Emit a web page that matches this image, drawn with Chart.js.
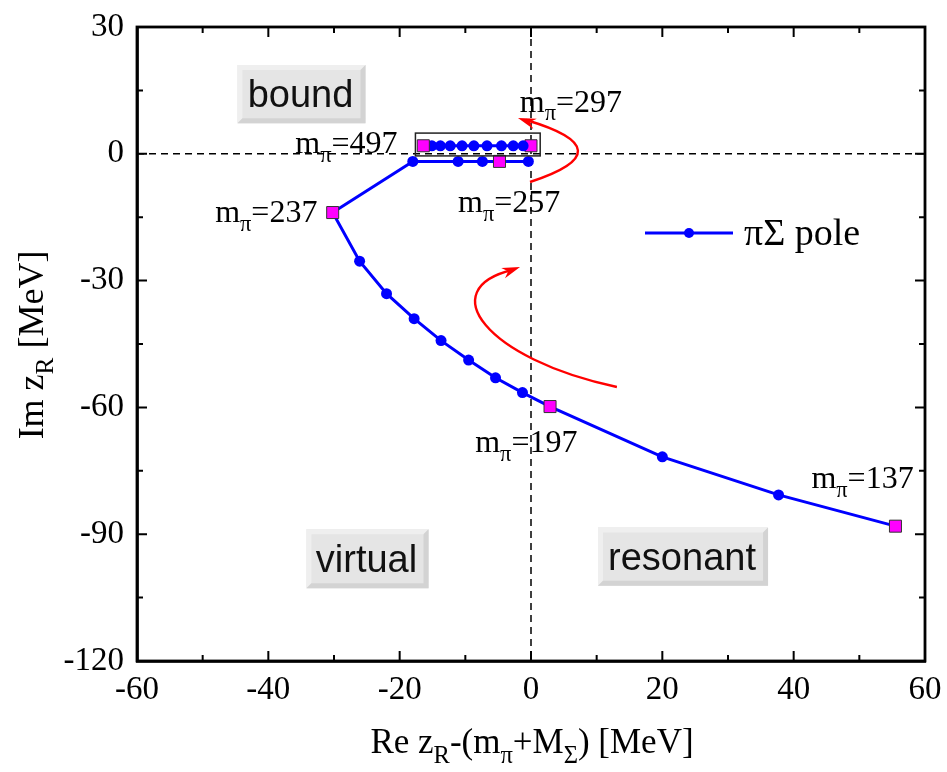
<!DOCTYPE html>
<html><head><meta charset="utf-8">
<script src="https://cdn.jsdelivr.net/npm/chart.js@4.4.1/dist/chart.umd.min.js"></script>
<style>html,body{margin:0;padding:0;background:#fff}</style>
</head><body>
<canvas id="c" width="947" height="772" style="width:947px;height:772px;display:block"></canvas>
<script>
// ---- data ----
const mpiLower = [137,157,177,197,202,207,212,217,222,227,232,237,242,247,252,257,262];
const reLower  = [55.5,37.7,20.0,2.9,-1.3,-5.4,-9.5,-13.7,-17.8,-22.0,-26.1,-30.2,-18.0,-11.1,-7.4,-4.8,-0.4];
const imLower  = [-88.1,-80.7,-71.7,-59.8,-56.5,-53.0,-48.8,-44.2,-39.0,-33.1,-25.4,-13.9,-1.8,-1.8,-1.8,-1.8,-1.8];
const mpiUpper = [297,317,337,357,377,397,417,437,457,477,497];
const reUpper  = [0.0,-1.2,-2.7,-4.5,-6.7,-8.7,-10.5,-12.3,-13.8,-15.1,-16.4];
const imUpper  = [1.9,1.9,1.9,1.9,1.9,1.9,1.9,1.9,1.9,1.9,1.9];
const markedMpi = [137,197,237,257,297,497];
const xTicks = [-60,-40,-20,0,20,40,60];
const yTicks = [30,0,-30,-60,-90,-120];
const seriesLabel = 'πΣ pole';
// labels next to points: [mπ value, re, im] (text anchor, data units)
const mpiLabels = [['497',-35.9,0.2],['297',-1.7,10.0],['257',-11.1,-13.7],['237',-48.1,-16.1],['197',-8.5,-70.5],['137',42.7,-79.1]];
// region boxes: [text, x0, y0, x1, y1] in data units
const regions = [['bound',-44.7,21.0,-25.2,7.2],['virtual',-34.2,-88.8,-15.6,-102.8],['resonant',10.2,-88.4,36.1,-102.2]];
// red arrows (bezier control points, data units)
const arrowUpper = [[-0.15,-6.67],[14.75,0.9],[-1.98,8.47]];
const arrowLower = [[13.08,-55.17],[-7.0,-48.5],[-14.8,-32.0],[-1.67,-26.78]];
// highlight frame around bound-state row (data units)
const frameBound = [-17.6,4.9,1.4,-0.5];

const BLUE = '#0000ff', MAG = '#ff00ff';
const SERIF = '"Liberation Serif","Times New Roman",serif';
const SANS = '"Liberation Sans",Arial,sans-serif';

function mk(re, im){ return re.map((x,i)=>({x:x, y:im[i]})); }
function styles(mpi){ return mpi.map(m => markedMpi.includes(m) ? 'rect' : 'circle'); }
function radii(mpi){ return mpi.map(m => markedMpi.includes(m) ? 8.5 : 5.5); }
function fills(mpi){ return mpi.map(m => markedMpi.includes(m) ? MAG : BLUE); }
function borders(mpi){ return mpi.map(m => markedMpi.includes(m) ? '#333333' : BLUE); }
function bws(mpi){ return mpi.map(m => markedMpi.includes(m) ? 1 : 0); }

function rich(ctx, parts, x, y, size, family, align){
  let w = 0;
  parts.forEach(p => { ctx.font = (p[1] ? size*0.7 : size) + 'px ' + family; w += ctx.measureText(p[0]).width; });
  let cx = align === 'center' ? x - w/2 : x;
  ctx.textAlign = 'left'; ctx.textBaseline = 'alphabetic';
  parts.forEach(p => {
    const s = p[1] ? size*0.7 : size;
    ctx.font = s + 'px ' + family;
    ctx.fillText(p[0], cx, y + (p[1] ? size*0.28 : 0));
    cx += ctx.measureText(p[0]).width;
  });
}

function arrowHead(ctx, tip, from, len, wid){
  const a = Math.atan2(tip[1]-from[1], tip[0]-from[0]);
  ctx.beginPath();
  ctx.moveTo(tip[0], tip[1]);
  ctx.lineTo(tip[0]-len*Math.cos(a)+wid/2*Math.sin(a), tip[1]-len*Math.sin(a)-wid/2*Math.cos(a));
  ctx.lineTo(tip[0]-len*Math.cos(a)*0.7, tip[1]-len*Math.sin(a)*0.7);
  ctx.lineTo(tip[0]-len*Math.cos(a)-wid/2*Math.sin(a), tip[1]-len*Math.sin(a)+wid/2*Math.cos(a));
  ctx.closePath(); ctx.fill();
}

const decor = {
  id: 'decor',
  beforeDatasetsDraw(chart){
    const {ctx, chartArea:a, scales:{x, y}} = chart;
    ctx.save();
    // zero lines
    ctx.strokeStyle = '#000'; ctx.lineWidth = 1.5; ctx.setLineDash([7,5]);
    ctx.beginPath(); ctx.moveTo(a.left, y.getPixelForValue(0)); ctx.lineTo(a.right, y.getPixelForValue(0)); ctx.stroke();
    ctx.beginPath(); ctx.moveTo(x.getPixelForValue(0), a.top); ctx.lineTo(x.getPixelForValue(0), a.bottom); ctx.stroke();
    ctx.setLineDash([]);
    // region boxes
    regions.forEach(r => {
      const x0 = x.getPixelForValue(r[1]), y0 = y.getPixelForValue(r[2]);
      const x1 = x.getPixelForValue(r[3]), y1 = y.getPixelForValue(r[4]);
      const b = 5;
      ctx.fillStyle = '#e5e5e5'; ctx.fillRect(x0, y0, x1-x0, y1-y0);
      ctx.fillStyle = '#efefef';
      ctx.beginPath(); ctx.moveTo(x0,y1); ctx.lineTo(x0,y0); ctx.lineTo(x1,y0); ctx.lineTo(x1-b,y0+b); ctx.lineTo(x0+b,y0+b); ctx.lineTo(x0+b,y1-b); ctx.closePath(); ctx.fill();
      ctx.fillStyle = '#d3d3d3';
      ctx.beginPath(); ctx.moveTo(x1,y0); ctx.lineTo(x1,y1); ctx.lineTo(x0,y1); ctx.lineTo(x0+b,y1-b); ctx.lineTo(x1-b,y1-b); ctx.lineTo(x1-b,y0+b); ctx.closePath(); ctx.fill();
      ctx.fillStyle = '#111'; ctx.font = '38px ' + SANS; ctx.textAlign = 'center'; ctx.textBaseline = 'alphabetic';
      ctx.fillText(r[0], (x0+x1)/2 - 1, y1 - 16);
    });
    ctx.restore();
  },
  afterDatasetsDraw(chart){
    const {ctx, chartArea:a, scales:{x, y}} = chart;
    ctx.save();
    // frame round bound-state row
    ctx.strokeStyle = '#222'; ctx.lineWidth = 1.5;
    const fx0 = x.getPixelForValue(frameBound[0]), fy0 = y.getPixelForValue(frameBound[1]);
    const fx1 = x.getPixelForValue(frameBound[2]), fy1 = y.getPixelForValue(frameBound[3]);
    ctx.strokeRect(fx0, fy0, fx1-fx0, fy1-fy0);
    // red arrows
    ctx.strokeStyle = '#ff0000'; ctx.fillStyle = '#ff0000'; ctx.lineWidth = 2.4;
    const pu = arrowUpper.map(p => [x.getPixelForValue(p[0]), y.getPixelForValue(p[1])]);
    ctx.beginPath(); ctx.moveTo(pu[0][0], pu[0][1]); ctx.quadraticCurveTo(pu[1][0], pu[1][1], pu[2][0]+8, pu[2][1]+2); ctx.stroke();
    arrowHead(ctx, pu[2], [pu[1][0]-40, pu[1][1]-8], 18, 11);
    const pl = arrowLower.map(p => [x.getPixelForValue(p[0]), y.getPixelForValue(p[1])]);
    ctx.beginPath(); ctx.moveTo(pl[0][0], pl[0][1]); ctx.bezierCurveTo(pl[1][0], pl[1][1], pl[2][0], pl[2][1], pl[3][0]-8, pl[3][1]+3); ctx.stroke();
    arrowHead(ctx, pl[3], [pl[3][0]-30, pl[3][1]+11], 18, 11);
    // mπ labels
    ctx.fillStyle = '#000';
    mpiLabels.forEach(l => rich(ctx, [['m',0],['π',1],['='+l[0],0]], x.getPixelForValue(l[1]), y.getPixelForValue(l[2]), 32, SERIF, 'left'));
    // frame top/right
    ctx.strokeStyle = '#000'; ctx.lineWidth = 2.8;
    ctx.strokeRect(a.left, a.top, a.right-a.left, a.bottom-a.top);
    // inward ticks
    ctx.lineWidth = 2;
    for (let v = -60; v <= 60; v += 10) {
      const px = x.getPixelForValue(v), L = (v % 20 === 0) ? 10 : 6;
      ctx.beginPath(); ctx.moveTo(px, a.bottom); ctx.lineTo(px, a.bottom-L); ctx.moveTo(px, a.top); ctx.lineTo(px, a.top+L); ctx.stroke();
    }
    for (let v = -120; v <= 30; v += 15) {
      const py = y.getPixelForValue(v), L = (v % 30 === 0) ? 10 : 6;
      ctx.beginPath(); ctx.moveTo(a.left, py); ctx.lineTo(a.left+L, py); ctx.moveTo(a.right, py); ctx.lineTo(a.right-L, py); ctx.stroke();
    }
    // axis titles
    ctx.fillStyle = '#000';
    rich(ctx, [['Re z',0],['R',1],['-(m',0],['π',1],['+M',0],['Σ',1],[') [MeV]',0]], 532, 753, 35, SERIF, 'center');
    ctx.save(); ctx.translate(43, 345); ctx.rotate(-Math.PI/2);
    rich(ctx, [['Im z',0],['R',1],[' [MeV]',0]], 0, 0, 36, SERIF, 'center');
    ctx.restore();
    // legend
    ctx.strokeStyle = BLUE; ctx.lineWidth = 3;
    ctx.beginPath(); ctx.moveTo(645, 233); ctx.lineTo(733, 233); ctx.stroke();
    ctx.fillStyle = BLUE; ctx.beginPath(); ctx.arc(689, 233, 5, 0, Math.PI*2); ctx.fill();
    ctx.fillStyle = '#000'; ctx.font = '38px ' + SERIF; ctx.textAlign = 'left'; ctx.textBaseline = 'alphabetic';
    ctx.fillText(seriesLabel, 744, 245);
    ctx.restore();
  }
};

new Chart(document.getElementById('c'), {
  type: 'scatter',
  data: { datasets: [
    { label: seriesLabel, data: mk(reLower, imLower), showLine: true, borderColor: BLUE, borderWidth: 3,
      pointStyle: styles(mpiLower), pointRadius: radii(mpiLower), pointBackgroundColor: fills(mpiLower),
      pointBorderColor: borders(mpiLower), pointBorderWidth: bws(mpiLower), tension: 0 },
    { label: seriesLabel + ' (bound)', data: mk(reUpper, imUpper), showLine: true, borderColor: BLUE, borderWidth: 3,
      pointStyle: styles(mpiUpper), pointRadius: radii(mpiUpper), pointBackgroundColor: fills(mpiUpper),
      pointBorderColor: borders(mpiUpper), pointBorderWidth: bws(mpiUpper), tension: 0 }
  ]},
  options: {
    responsive: false, animation: false, devicePixelRatio: 1,
    layout: { padding: { left: 0, right: 22, top: 27, bottom: 0 } },
    plugins: { legend: { display: false }, tooltip: { enabled: false } },
    scales: {
      x: { type: 'linear', min: -60, max: 60,
        afterBuildTicks: s => { s.ticks = xTicks.map(v => ({value: v})); },
        afterFit: s => { s.height = 111; s.paddingLeft = 0; s.paddingRight = 0; s.paddingTop = 0; s.paddingBottom = 0; },
        grid: { display: false, drawTicks: false },
        border: { display: true, color: '#000', width: 2.8 },
        ticks: { color: '#000', padding: 10, font: { family: SERIF, size: 33 }, maxRotation: 0 } },
      y: { type: 'linear', min: -120, max: 30,
        afterBuildTicks: s => { s.ticks = yTicks.map(v => ({value: v})); },
        afterFit: s => { s.width = 137; s.paddingLeft = 0; s.paddingRight = 0; s.paddingTop = 0; s.paddingBottom = 0; },
        grid: { display: false, drawTicks: false },
        border: { display: true, color: '#000', width: 2.8 },
        ticks: { color: '#000', padding: 13, font: { family: SERIF, size: 33 } } }
    }
  },
  plugins: [decor]
});
</script>
</body></html>
